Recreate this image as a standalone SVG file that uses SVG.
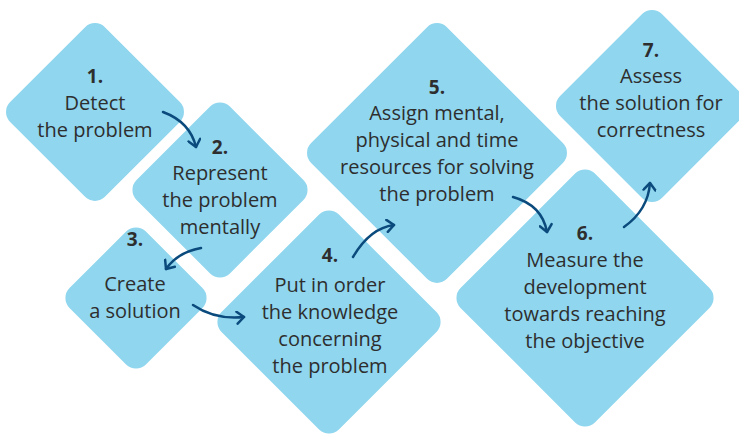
<svg xmlns="http://www.w3.org/2000/svg" width="739" height="434" viewBox="0 0 739 434">
<style>
.d{fill:#8fd6ee}
.t{font-family:"Open Sans","Liberation Sans",sans-serif;font-size:20px;fill:#2e2e2e;text-anchor:middle}
.n{font-weight:700;font-size:19px}
.c{fill:none;stroke:#0b4a7c;stroke-width:2.5;stroke-linecap:round}
</style>
<defs>
<marker id="ah" markerWidth="12" markerHeight="14" refX="9" refY="7" orient="auto" markerUnits="userSpaceOnUse">
<path d="M2,1 L9,7 L2,13" fill="none" stroke="#0b4a7c" stroke-width="2.5" stroke-linecap="round" stroke-linejoin="round"/>
</marker>
</defs>
<rect width="739" height="434" fill="#ffffff"/>
<g id="n1"><rect class="d" x="28" y="45" width="134" height="134" rx="14" transform="rotate(45 95 112)"/>
<text class="t n" x="95" y="83">1.</text><text class="t" x="95" y="110">Detect</text><text class="t" x="95" y="137">the problem</text></g>
<g id="n2"><rect class="d" x="154" y="124" width="132" height="132" rx="14" transform="rotate(45 220 190)"/>
<text class="t n" x="220" y="154">2.</text><text class="t" x="220" y="180">Represent</text><text class="t" x="220" y="207">the problem</text><text class="t" x="220" y="234">mentally</text></g>
<g id="n3"><rect class="d" x="82" y="244" width="108" height="108" rx="14" transform="rotate(45 136 298)"/>
<text class="t n" x="135" y="246">3.</text><text class="t" x="135" y="291">Create</text><text class="t" x="135" y="318">a solution</text></g>
<g id="n4"><rect class="d" x="246" y="239" width="166" height="166" rx="14" transform="rotate(45 329 322)"/>
<text class="t n" x="330" y="262">4.</text><text class="t" x="330" y="292">Put in order</text><text class="t" x="330" y="319">the knowledge</text><text class="t" x="330" y="346">concerning</text><text class="t" x="330" y="373">the problem</text></g>
<g id="n5"><rect class="d" x="341" y="57" width="192" height="192" rx="14" transform="rotate(45 437 153)"/>
<text class="t n" x="437" y="94">5.</text><text class="t" x="437" y="120">Assign mental,</text><text class="t" x="437" y="147">physical and time</text><text class="t" x="437" y="174">resources for solving</text><text class="t" x="437" y="201">the problem</text></g>
<g id="n6"><rect class="d" x="490" y="203" width="190" height="190" rx="14" transform="rotate(45 585 298)"/>
<text class="t n" x="585" y="240">6.</text><text class="t" x="585" y="267">Measure the</text><text class="t" x="585" y="294">development</text><text class="t" x="585" y="321">towards reaching</text><text class="t" x="585" y="348">the objective</text></g>
<g id="n7"><rect class="d" x="580" y="34" width="144" height="144" rx="14" transform="rotate(45 652 106)"/>
<text class="t n" x="651" y="57">7.</text><text class="t" x="651" y="83">Assess</text><text class="t" x="651" y="110">the solution for</text><text class="t" x="651" y="137">correctness</text></g>
<g id="connectors">
<path class="c" d="M163,112 Q190,122 196,147" marker-end="url(#ah)"/>
<path class="c" d="M201,248 Q178,252 166,269" marker-end="url(#ah)"/>
<path class="c" d="M193,305 Q215,320 244,317" marker-end="url(#ah)"/>
<path class="c" d="M353,257 Q370,228 394,225" marker-end="url(#ah)"/>
<path class="c" d="M513,197 Q542,205 547,232" marker-end="url(#ah)"/>
<path class="c" d="M624,227 Q648,210 650,183" marker-end="url(#ah)"/>
</g>
</svg>
